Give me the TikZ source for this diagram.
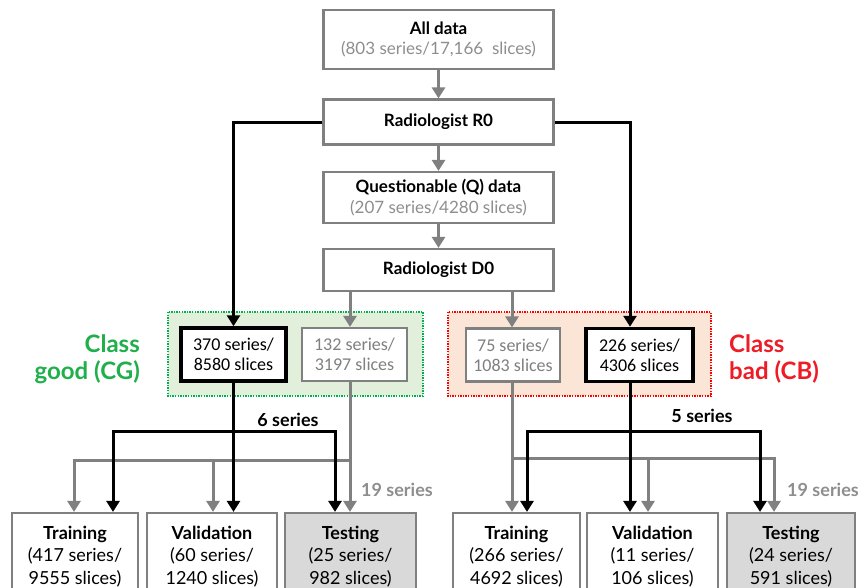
\documentclass[tikz,border=0pt]{standalone}
\usepackage{fontspec}
\setmainfont{Lato}
\newfontfamily\calfont{Carlito}
\usetikzlibrary{arrows.meta}

\definecolor{lgray}{HTML}{808080}
\definecolor{tgray}{HTML}{8E8E8E}
\definecolor{testfill}{HTML}{D9D9D9}
\definecolor{gfill}{HTML}{E2EFDA}
\definecolor{gline}{HTML}{00B050}
\definecolor{rfill}{HTML}{FBE5D6}
\definecolor{rline}{HTML}{FF0000}
\definecolor{gtxt}{HTML}{1FAF4B}
\definecolor{rtxt}{HTML}{EE1C25}

\tikzset{
  flowbox/.style={draw=lgray, line width=2.2pt, fill=white, minimum width=230pt,
    inner sep=0pt, align=center, text=black, font=\fontsize{17}{20.5}\selectfont},
  subbox/.style={line width=3.5pt, fill=white, minimum height=53pt, inner sep=0pt,
    align=center, font=\calfont\fontsize{18}{20}\selectfont},
  goodsub/.style={subbox, draw=black, text=black},
  graysub/.style={subbox, draw=lgray, line width=2.2pt, text=lgray},
  splitbox/.style={draw=lgray, line width=2.2pt, fill=white, minimum height=87pt,
    inner sep=0pt, align=center, text=black, font=\fontsize{18}{22.5}\selectfont},
  testbox/.style={splitbox, fill=testfill},
  groupframe/.style={line width=1.4pt, dash pattern=on 1.4pt off 1.2pt},
  garrow/.style={draw=lgray, line width=3pt, -{Triangle[length=11pt,width=13pt]}},
  barrow/.style={draw=black, line width=3pt, -{Triangle[length=11pt,width=13pt]}},
  gboth/.style={draw=lgray, line width=3pt, {Triangle[length=11pt,width=13pt]}-{Triangle[length=11pt,width=13pt]}},
  bboth/.style={draw=black, line width=3pt, {Triangle[length=11pt,width=13pt]}-{Triangle[length=11pt,width=13pt]}},
  count/.style={inner sep=0pt, font=\bfseries\fontsize{18}{20}\selectfont},
  classlabel/.style={inner sep=0pt, font=\bfseries\fontsize{24}{27}\selectfont}
}

\begin{document}
\begin{tikzpicture}[x=1pt,y=-1pt]
\useasboundingbox (0,0) rectangle (858,587);
\clip (0,0) rectangle (858,587);
\fill[white] (0,0) rectangle (858,587);

% review chain
\node[flowbox, minimum height=59pt] (alld) at (438.5,39.5)
  {\textbf{All data}\\{\color{tgray}(803 series/17,166~~slices)}};
\node[flowbox, minimum height=45pt] (r0) at (438.5,122) {\textbf{Radiologist R0}};
\node[flowbox, minimum height=51pt] (q) at (438.5,197.5)
  {\textbf{Questionable (Q) data}\\{\color{tgray}(207 series/4280 slices)}};
\node[flowbox, minimum height=42pt] (d0) at (438.5,270) {\textbf{Radiologist D0}};

% class groups
\fill[gfill] (168,312) rectangle (423,396);
\draw[groupframe, draw=gline] (168,312) rectangle (423,396);
\fill[rfill] (448,312) rectangle (711,396);
\draw[groupframe, draw=rline] (448,312) rectangle (711,396);

\node[classlabel, text=gtxt, align=right, anchor=east] (cgl) at (140,359) {Class\\good (CG)};
\node[classlabel, text=rtxt, align=left, anchor=west] (cbl) at (729,359) {Class\\bad (CB)};

\node[goodsub, minimum width=105pt] (cg1) at (233.5,354.5) {370 series/\\8580 slices};
\node[graysub, minimum width=105pt] (cg2) at (354.5,354.5) {132 series/\\3197 slices};
\node[graysub, minimum width=94pt] (cb0) at (513,355) {75 series/\\1083 slices};
\node[goodsub, minimum width=107pt] (cb1) at (639.5,355) {226 series/\\4306 slices};

% data splits
\node[splitbox, minimum width=126pt] (trL) at (75,556.5)
  {\textbf{Training}\\(417 series/\\9555 slices)};
\node[splitbox, minimum width=130pt] (vlL) at (212,556.5)
  {\textbf{Validation}\\(60 series/\\1240 slices)};
\node[testbox, minimum width=131pt] (teL) at (350.5,556.5)
  {\textbf{Testing}\\(25 series/\\982 slices)};
\node[splitbox, minimum width=127pt] (trR) at (516.5,556.5)
  {\textbf{Training}\\(266 series/\\4692 slices)};
\node[splitbox, minimum width=131pt] (vlR) at (652.5,556.5)
  {\textbf{Validation}\\(11 series/\\106 slices)};
\node[testbox, minimum width=128pt] (teR) at (791,556.5)
  {\textbf{Testing}\\(24 series/\\591 slices)};

% routing columns
\coordinate (gLa) at (74,460);
\coordinate (gLb) at (213,460);
\coordinate (gLc) at (350,460);
\coordinate (bLa) at (113,431);
\coordinate (bLc) at (335,431);
\coordinate (gRa) at (512,458);
\coordinate (gRb) at (648,458);
\coordinate (gRc) at (774,458);
\coordinate (bRa) at (527,431);
\coordinate (bRc) at (760,431);
\coordinate (xR) at (630,0);

% chain arrows
\draw[garrow] (alld) -- (r0);
\draw[garrow] (r0) -- (q);
\draw[garrow] (q) -- (d0);

% radiologist decisions
\draw[barrow] (r0.west) -| (cg1.north);
\draw[barrow] (r0.east) -| (cb1.north -| xR);
\draw[garrow] (d0.south -| gLc) -- (cg2.north -| gLc);
\draw[garrow] (d0.south -| gRa) -- (cb0.north -| gRa);

% good class split
\draw[garrow] (cg2.south -| gLc) -- (gLc |- teL.north);
\draw[garrow] (gLc) -- (gLa) -- (gLa |- trL.north);
\draw[garrow] (gLb) -- (gLb |- vlL.north);
\draw[barrow] (cg1.south) -- (cg1.south |- vlL.north);
\draw[bboth] (bLa |- trL.north) -- (bLa) -- (bLc) -- (bLc |- teL.north);

% bad class split
\draw[garrow] (cb0.south -| gRa) -- (gRa |- trR.north);
\draw[garrow] (gRa) -- (gRc) -- (gRc |- teR.north);
\draw[garrow] (gRb) -- (gRb |- vlR.north);
\draw[barrow] (cb1.south -| xR) -- (xR |- vlR.north);
\draw[bboth] (bRa |- trR.north) -- (bRa) -- (bRc) -- (bRc |- teR.north);

% series counts
\node[count] (n6) at (288,420) {6 series};
\node[count] (n5) at (702,416) {5 series};
\node[count, text=tgray] (n19l) at (397,490) {19 series};
\node[count, text=tgray] (n19r) at (823,490) {19 series};
\end{tikzpicture}
\end{document}
